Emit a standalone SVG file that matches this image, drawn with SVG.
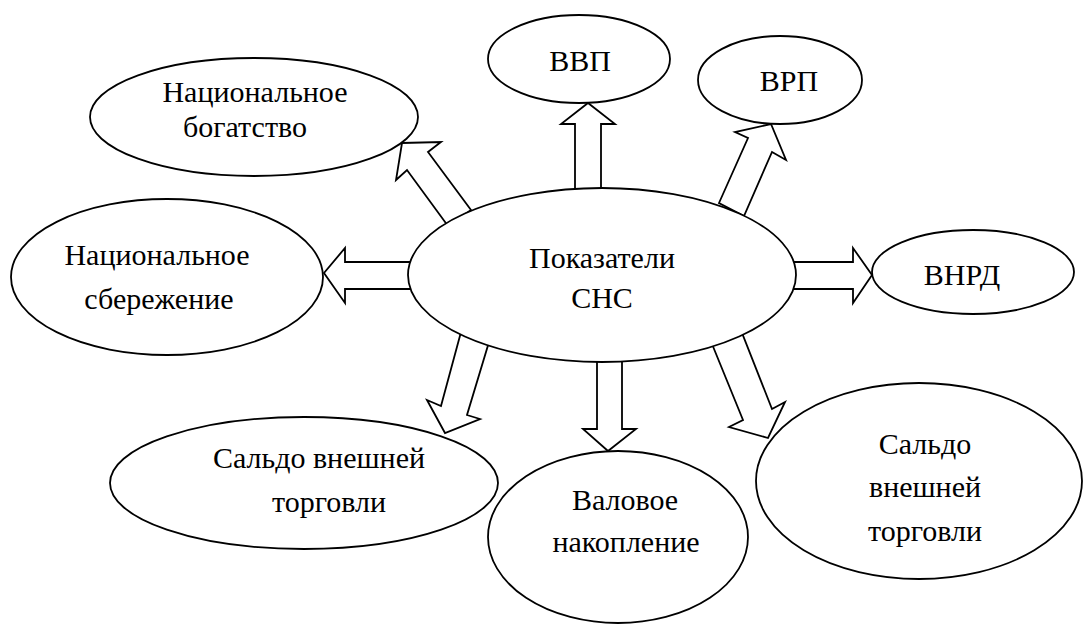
<svg xmlns="http://www.w3.org/2000/svg" width="1083" height="625" viewBox="0 0 1083 625" font-family="Liberation Serif, DejaVu Serif, serif">
<style>
.n{fill:#fff;stroke:#000;stroke-width:1.8}
.a{fill:#fff;stroke:#000;stroke-width:1.8;stroke-linejoin:miter}
text{font-size:30px;fill:#000;text-anchor:middle}
</style>
<rect width="1083" height="625" fill="#fff"/>
<g id="connectors">
<polygon class="a" points="575,192 575,124 561,124 588,103 615,124 601,124 601,192"/>
<polygon class="a" points="448,226 407,170 396,180 402,143 441,142 428,152 471,210"/>
<polygon class="a" points="719,203 748,138 735,132 771,124 786,160 772,152 744,216"/>
<polygon class="a" points="412,262 345,262 345,248 324,273 345,303 345,289 412,289"/>
<polygon class="a" points="792,262 853,262 853,248 872,275 853,303 853,289 792,289"/>
<polygon class="a" points="461,332 441,406 427,400 445,433 480,419 467,415 489,342"/>
<polygon class="a" points="597,358 597,429 583,429 608,451 636,429 622,429 622,358"/>
<polygon class="a" points="712,344 743,420 729,427 768,438 785,402 772,409 742,333"/>
</g>
<g id="center"><ellipse class="n" cx="602" cy="275" rx="194" ry="87"/><text x="602" y="268">Показатели</text><text x="602" y="308">СНС</text></g>
<g id="vvp"><ellipse class="n" cx="579" cy="59" rx="91" ry="44"/><text x="580" y="71">ВВП</text></g>
<g id="vrp"><ellipse class="n" cx="780" cy="80" rx="82" ry="44"/><text x="789" y="91">ВРП</text></g>
<g id="nat-wealth"><ellipse class="n" cx="254" cy="117" rx="164" ry="59"/><text x="255" y="102">Национальное</text><text x="245" y="137">богатство</text></g>
<g id="nat-savings"><ellipse class="n" cx="167" cy="277" rx="156" ry="78"/><text x="157" y="265">Национальное</text><text x="159" y="309">сбережение</text></g>
<g id="vnrd"><ellipse class="n" cx="973" cy="272" rx="101" ry="42"/><text x="962" y="285">ВНРД</text></g>
<g id="trade-left"><ellipse class="n" cx="304" cy="483" rx="194" ry="66"/><text x="319" y="468">Сальдо внешней</text><text x="329" y="512">торговли</text></g>
<g id="gross-acc"><ellipse class="n" cx="618" cy="537" rx="130" ry="86"/><text x="625" y="510">Валовое</text><text x="626" y="552">накопление</text></g>
<g id="trade-right"><ellipse class="n" cx="919" cy="481" rx="163" ry="98"/><text x="925" y="454">Сальдо</text><text x="925" y="497">внешней</text><text x="925" y="541">торговли</text></g>
</svg>
